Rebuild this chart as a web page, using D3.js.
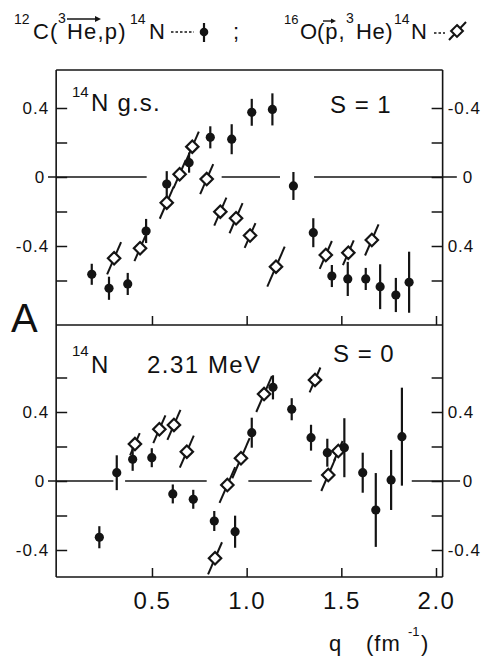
<!DOCTYPE html>
<html>
<head>
<meta charset="utf-8">
<script src="https://cdn.jsdelivr.net/npm/d3@7"></script>
<style>
  body { margin: 0; background: #fff; }
  text { font-family: "Liberation Sans", Arial, sans-serif; fill: #111; }
</style>
</head>
<body>
<svg id="chart" width="496" height="659"></svg>
<script>
"use strict";

// ---- data (q in fm^-1, analysing power) ----
// 14N g.s., 12C(3He,p)14N  (filled circles, left axis)
const gsHeQ   = [0.182, 0.273, 0.372, 0.469, 0.578, 0.696, 0.808, 0.921, 1.027, 1.136, 1.247, 1.352, 1.450, 1.534, 1.629, 1.705, 1.788, 1.858];
const gsHeVal = [-0.564, -0.645, -0.620, -0.313, -0.041, 0.083, 0.230, 0.219, 0.375, 0.392, -0.052, -0.323, -0.574, -0.591, -0.591, -0.636, -0.684, -0.610];
const gsHeErr = [0.061, 0.067, 0.064, 0.070, 0.075, 0.058, 0.064, 0.087, 0.078, 0.093, 0.081, 0.084, 0.064, 0.099, 0.064, 0.130, 0.099, 0.177];
// 14N g.s., 16O(p,3He)14N  (open diamonds, right axis, reversed)
const gsPQ    = [0.300, 0.437, 0.578, 0.646, 0.713, 0.789, 0.861, 0.944, 1.018, 1.155, 1.418, 1.537, 1.661];
const gsPVal  = [0.471, 0.413, 0.149, -0.016, -0.176, 0.012, 0.201, 0.239, 0.339, 0.520, 0.452, 0.439, 0.365];
const gsPErr  = [0.093, 0.075, 0.093, 0.081, 0.087, 0.087, 0.081, 0.087, 0.072, 0.116, 0.081, 0.072, 0.090];
// 14N 2.31 MeV, 12C(3He,p)14N
const exHeQ   = [0.222, 0.314, 0.398, 0.499, 0.610, 0.718, 0.829, 0.939, 1.027, 1.139, 1.238, 1.340, 1.426, 1.516, 1.613, 1.682, 1.763, 1.820];
const exHeVal = [-0.326, 0.048, 0.126, 0.135, -0.075, -0.106, -0.232, -0.294, 0.280, 0.543, 0.416, 0.251, 0.164, 0.193, 0.048, -0.168, 0.006, 0.257];
const exHeErr = [0.064, 0.101, 0.067, 0.055, 0.055, 0.055, 0.058, 0.093, 0.087, 0.070, 0.064, 0.075, 0.081, 0.171, 0.116, 0.214, 0.174, 0.284];
// 14N 2.31 MeV, 16O(p,3He)14N
const exPQ    = [0.410, 0.539, 0.616, 0.684, 0.833, 0.898, 0.970, 1.092, 1.361, 1.431, 1.484];
const exPVal  = [0.214, 0.300, 0.325, 0.170, -0.448, -0.023, 0.132, 0.504, 0.586, 0.035, 0.174];
const exPErr  = [0.064, 0.081, 0.087, 0.093, 0.093, 0.104, 0.116, 0.104, 0.072, 0.093, 0.058];

// ticks
const xTicks = [0.5, 1.0, 1.5, 2.0];
const xTickLabels = ["0.5", "1.0", "1.5", "2.0"];
const yTicksTopLeft = [-0.6, -0.4, -0.2, 0, 0.2, 0.4];
const yTicksTopRight = [-0.4, -0.2, 0, 0.2, 0.4, 0.6];
const yTicksBottom = [-0.4, -0.2, 0, 0.2, 0.4, 0.6];
const yLabelled = [-0.4, 0, 0.4];

// the zero line is broken where points sit on it (q ranges)
const zeroTop = [[-0.049, 0.472], [0.868, 1.176], [1.356, 2.11]];
const zeroBottom = [[-0.049, 0.296], [0.358, 0.789], [1.009, 1.344], [1.872, 2.127]];

// ---- layout ----
const svg = d3.select("#chart");
const ink = "#141414";
const x = d3.scaleLinear().domain([0, 2]).range([57.3, 436]);
const xLeft = x(-0.006), xRight = x(2.035);
const frameTop = 70, divider = 325, frameBottom = 577;

const yTop = d3.scaleLinear().domain([-0.4, 0.4]).range([246, 108]);
const yTopR = d3.scaleLinear().domain([-0.4, 0.4]).range([108, 246]);
const yBot = d3.scaleLinear().domain([-0.4, 0.4]).range([550, 412]);

function fmt(v) {
    if (yLabelled.indexOf(Math.round(v * 10) / 10) < 0) return "";
    if (Math.abs(v) < 1e-9) return "0";
    return (v < 0 ? "-" : "") + Math.abs(v).toFixed(1);
}

// frame
const frame = svg.append("g").attr("stroke", ink).attr("stroke-width", 1.6).attr("fill", "none");
frame.append("line").attr("x1", xLeft).attr("x2", xRight).attr("y1", frameTop).attr("y2", frameTop);
frame.append("line").attr("x1", xLeft).attr("x2", xRight).attr("y1", divider).attr("y2", divider);
frame.append("line").attr("x1", xLeft).attr("x2", xRight).attr("y1", frameBottom).attr("y2", frameBottom);
frame.append("line").attr("x1", xLeft).attr("x2", xLeft).attr("y1", frameTop).attr("y2", frameBottom);
frame.append("line").attr("x1", xRight).attr("x2", xRight).attr("y1", frameTop).attr("y2", frameBottom);

// y axes
function yAxis(scale, ticks, side) {
    const ax = (side === "left" ? d3.axisLeft(scale) : d3.axisRight(scale))
        .tickValues(ticks).tickFormat(fmt).tickSize(-11).tickPadding(side === "left" ? 7 : 5);
    const g = svg.append("g")
        .attr("transform", "translate(" + (side === "left" ? xLeft : xRight) + ",0)")
        .call(ax);
    g.select(".domain").remove();
    g.selectAll("line").attr("stroke", ink).attr("stroke-width", 1.5);
    g.selectAll("text")
        .attr("font-size", 17).attr("letter-spacing", 1).attr("fill", ink)
        .style("font-family", "'Liberation Sans', Arial, sans-serif");
    // the zero label sits past the end of the zero line
    g.selectAll(".tick").filter((d) => Math.abs(d) < 1e-9).select("text")
        .attr("dx", side === "left" ? -4 : 15);
    return g;
}
yAxis(yTop, yTicksTopLeft, "left");
yAxis(yTopR, yTicksTopRight, "right");
yAxis(yBot, yTicksBottom, "left");
yAxis(yBot, yTicksBottom, "right");

// x axes (ticks point up into each panel)
function xAxis(y, labels) {
    const ax = d3.axisBottom(x).tickValues(xTicks).tickSize(-9).tickPadding(15)
        .tickFormat((d, i) => labels ? xTickLabels[i] : "");
    const g = svg.append("g").attr("transform", "translate(0," + y + ")").call(ax);
    g.select(".domain").remove();
    g.selectAll("line").attr("stroke", ink).attr("stroke-width", 1.5);
    g.selectAll("text")
        .attr("font-size", 24).attr("letter-spacing", 1.5).attr("fill", ink)
        .style("font-family", "'Liberation Sans', Arial, sans-serif");
}
xAxis(divider, false);
xAxis(frameBottom, true);

// zero lines
function zeroLine(segs, scale) {
    svg.append("g").selectAll("line").data(segs).enter().append("line")
        .attr("x1", (d) => x(d[0])).attr("x2", (d) => x(d[1]))
        .attr("y1", scale(0)).attr("y2", scale(0))
        .attr("stroke", ink).attr("stroke-width", 1.3);
}
zeroLine(zeroTop, yTop);
zeroLine(zeroBottom, yBot);

// filled circles with vertical error bars
function circles(qs, vals, errs, scale) {
    const pts = qs.map((q, i) => ({ q, v: vals[i], e: errs[i] }));
    const g = svg.append("g");
    g.selectAll("line").data(pts).enter().append("line")
        .attr("x1", (d) => x(d.q)).attr("x2", (d) => x(d.q))
        .attr("y1", (d) => scale(d.v - d.e)).attr("y2", (d) => scale(d.v + d.e))
        .attr("stroke", ink).attr("stroke-width", 2.2);
    g.selectAll("circle").data(pts).enter().append("circle")
        .attr("cx", (d) => x(d.q)).attr("cy", (d) => scale(d.v))
        .attr("r", 4.6).attr("fill", ink);
}

// open diamonds with slanted error bars
const slant = 2.3;
const diamondPath = "M0,-6.2L6.2,0L0,6.2L-6.2,0Z";
function diamonds(qs, vals, errs, scale) {
    const pts = qs.map((q, i) => ({ q, v: vals[i], e: errs[i] }));
    const g = svg.append("g");
    g.selectAll("line").data(pts).enter().append("line")
        .each(function (d) {
            const cx = x(d.q), cy = scale(d.v);
            const dy = Math.abs(scale(d.v + d.e) - cy), dx = dy / slant;
            d3.select(this).attr("x1", cx - dx).attr("y1", cy + dy).attr("x2", cx + dx).attr("y2", cy - dy);
        })
        .attr("stroke", ink).attr("stroke-width", 2);
    g.selectAll("path").data(pts).enter().append("path")
        .attr("d", diamondPath)
        .attr("transform", (d) => "translate(" + x(d.q) + "," + scale(d.v) + ")")
        .attr("fill", "#fff").attr("stroke", ink).attr("stroke-width", 2.2);
}

circles(gsHeQ, gsHeVal, gsHeErr, yTop);
diamonds(gsPQ, gsPVal, gsPErr, yTopR);
diamonds(exPQ, exPVal, exPErr, yBot);
circles(exHeQ, exHeVal, exHeErr, yBot);

// ---- texts ----
function txt(xp, yp, s, size, ls) {
    return svg.append("text").attr("x", xp).attr("y", yp).attr("font-size", size)
        .attr("letter-spacing", ls || 0).text(s);
}
// panel labels
txt(72, 97, "14", 15);
txt(91, 111, "N g.s.", 24, 1.2);
txt(330, 113, "S = 1", 24, 1);
txt(72, 356, "14", 15);
txt(91, 373, "N", 24);
txt(147, 373, "2.31 MeV", 24, 1.5);
txt(333, 362, "S = 0", 24, 1);
txt(11, 332, "A", 40);

// axis title
txt(329, 651, "q", 22);
txt(366, 651, "(fm", 22, 1);
txt(408, 636, "-1", 13);
txt(421, 651, ")", 22);

// header
txt(14, 24, "12", 14);
txt(33, 39, "C", 22);
txt(50, 39, "(", 22);
txt(58, 23, "3", 14);
txt(67, 39, "He,p)", 22, 1.2);
txt(130, 24, "14", 14);
txt(149, 39, "N", 22);
txt(233, 39, ";", 22);
txt(284, 24, "16", 13);
txt(300, 39, "O", 22);
txt(317, 39, "(p,", 22, 1);
txt(346, 23, "3", 14);
txt(356, 39, "He)", 22, 0.6);
txt(394, 24, "14", 14);
txt(411, 39, "N", 22);

const hdr = svg.append("g").attr("stroke", ink).attr("fill", "none");
// vector arrows over He and p
hdr.append("line").attr("x1", 67).attr("x2", 98).attr("y1", 19).attr("y2", 19).attr("stroke-width", 1.5);
hdr.append("path").attr("d", "M95,16L101,19L95,22Z").attr("fill", ink).attr("stroke", "none");
hdr.append("line").attr("x1", 323).attr("x2", 333).attr("y1", 21).attr("y2", 21).attr("stroke-width", 1.4);
hdr.append("path").attr("d", "M331,18.5L336,21L331,23.5Z").attr("fill", ink).attr("stroke", "none");
// legend symbols
hdr.append("line").attr("x1", 171).attr("x2", 194).attr("y1", 32).attr("y2", 32)
    .attr("stroke-width", 1.3).attr("stroke-dasharray", "2.5,2");
hdr.append("line").attr("x1", 204).attr("x2", 204).attr("y1", 23).attr("y2", 42).attr("stroke-width", 2.2);
hdr.append("circle").attr("cx", 204).attr("cy", 32).attr("r", 4.3).attr("fill", ink).attr("stroke", "none");
hdr.append("line").attr("x1", 434).attr("x2", 445).attr("y1", 33).attr("y2", 33)
    .attr("stroke-width", 1.3).attr("stroke-dasharray", "2.5,2");
hdr.append("line").attr("x1", 449).attr("x2", 466).attr("y1", 40).attr("y2", 22).attr("stroke-width", 2);
hdr.append("path").attr("d", diamondPath).attr("transform", "translate(457,31) scale(0.95)")
    .attr("fill", "#fff").attr("stroke-width", 2.2);
</script>
</body>
</html>
